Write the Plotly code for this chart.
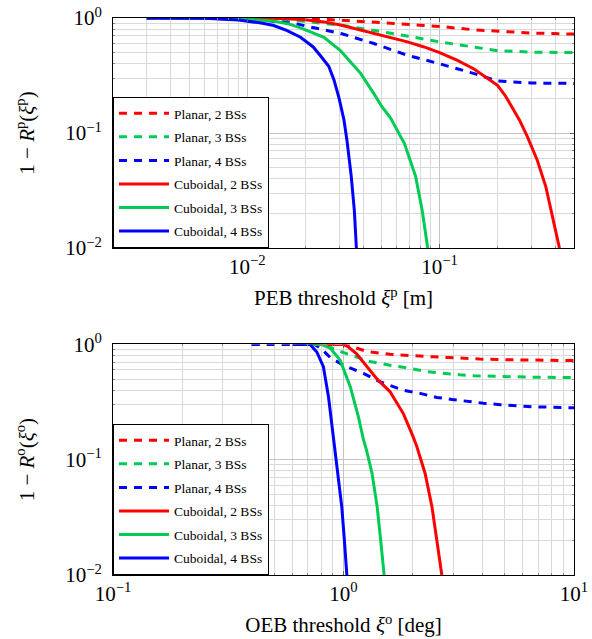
import math
import plotly.graph_objects as go

# ---------------- data ----------------
names = ["Planar, 2 BSs", "Planar, 3 BSs", "Planar, 4 BSs",
         "Cuboidal, 2 BSs", "Cuboidal, 3 BSs", "Cuboidal, 4 BSs"]
colors = ["#ff0000", "#00cc55", "#0000ff", "#ff0000", "#00cc55", "#0000ff"]
dashes = ["8px,7px", "8px,7px", "8px,7px", "solid", "solid", "solid"]

# Top: PEB threshold [m]
peb_planar2_x = [0.003, 0.01, 0.015, 0.02, 0.03, 0.042, 0.06, 0.076, 0.1, 0.15, 0.2, 0.3, 0.5]
peb_planar2_y = [1.0, 1.0, 0.995, 0.985, 0.96, 0.93, 0.89, 0.87, 0.845, 0.79, 0.765, 0.74, 0.725]
peb_planar3_x = [0.003, 0.008, 0.012, 0.015, 0.02, 0.03, 0.04, 0.05, 0.07, 0.1, 0.15, 0.2, 0.3, 0.5]
peb_planar3_y = [1.0, 0.995, 0.98, 0.965, 0.935, 0.87, 0.81, 0.76, 0.69, 0.62, 0.56, 0.52, 0.505, 0.50]
peb_planar4_x = [0.003, 0.008, 0.012, 0.018, 0.0213, 0.026, 0.031, 0.0455, 0.068, 0.1, 0.15, 0.2, 0.25, 0.3, 0.5]
peb_planar4_y = [1.0, 0.99, 0.96, 0.89, 0.835, 0.78, 0.73, 0.60, 0.474, 0.40, 0.33, 0.283, 0.275, 0.272, 0.27]
peb_cub2_x = [0.003, 0.01, 0.015, 0.02, 0.025, 0.0305, 0.037, 0.0455, 0.0556, 0.068, 0.083, 0.1,
              0.123, 0.151, 0.177, 0.2, 0.22, 0.24, 0.26, 0.286, 0.322, 0.357, 0.386, 0.42]
peb_cub2_y = [1.0, 1.0, 0.99, 0.965, 0.925, 0.87, 0.80, 0.74, 0.68, 0.62, 0.56, 0.5,
              0.43, 0.36, 0.30, 0.26, 0.21, 0.165, 0.13, 0.093, 0.058, 0.034, 0.0187, 0.01]
peb_cub3_x = [0.003, 0.007, 0.0092, 0.0137, 0.0167, 0.0189, 0.022, 0.025, 0.0305, 0.0344, 0.0388,
              0.0455, 0.05, 0.0556, 0.0656, 0.075, 0.0811, 0.0867]
peb_cub3_y = [1.0, 0.998, 0.985, 0.94, 0.88, 0.82, 0.74, 0.68, 0.52, 0.41, 0.33,
              0.22, 0.17, 0.135, 0.081, 0.042, 0.0214, 0.01]
peb_cub4_x = [0.003, 0.006, 0.009, 0.012, 0.0137, 0.016, 0.0189, 0.022, 0.024, 0.0265, 0.0282,
              0.030, 0.0318, 0.033, 0.0347, 0.036, 0.0369]
peb_cub4_y = [1.0, 0.995, 0.96, 0.9, 0.86, 0.78, 0.68, 0.56, 0.47, 0.38, 0.29,
              0.2, 0.13, 0.085, 0.042, 0.0214, 0.01]

# Bottom: OEB threshold [deg]
oeb_planar2_x = [0.4, 1.0, 1.1, 1.26, 1.59, 1.95, 2.42, 2.85, 3.33, 3.9, 5.3, 6.2, 8.6, 10]
oeb_planar2_y = [1.0, 1.0, 0.95, 0.87, 0.82, 0.795, 0.78, 0.77, 0.756, 0.746, 0.736, 0.73, 0.726, 0.725]
oeb_planar3_x = [0.4, 0.8, 0.85, 0.935, 1.07, 1.3, 1.59, 1.95, 2.3, 2.7, 3.2, 3.7, 4.38, 5.1, 6.0, 7.1, 10]
oeb_planar3_y = [1.0, 1.0, 0.97, 0.89, 0.81, 0.71, 0.66, 0.62, 0.58, 0.56, 0.545, 0.534, 0.528, 0.524,
                 0.52, 0.518, 0.517]
oeb_planar4_x = [0.4, 0.75, 0.8, 0.875, 1.0, 1.22, 1.44, 1.82, 2.15, 2.54, 2.95, 3.49, 4.05, 4.79,
                 5.56, 6.57, 7.63, 10]
oeb_planar4_y = [1.0, 1.0, 0.92, 0.77, 0.66, 0.56, 0.474, 0.40, 0.376, 0.347, 0.333, 0.318, 0.309,
                 0.30, 0.293, 0.288, 0.286, 0.282]
oeb_cub2_x = [0.6, 1.0, 1.05, 1.14, 1.22, 1.3, 1.4, 1.59, 1.82, 2.0, 2.08, 2.26, 2.42, 2.54, 2.67]
oeb_cub2_y = [1.0, 1.0, 0.95, 0.83, 0.70, 0.6, 0.5, 0.39, 0.25, 0.16, 0.13, 0.076, 0.039, 0.02, 0.01]
oeb_cub3_x = [0.6, 0.8, 0.875, 0.967, 1.07, 1.16, 1.22, 1.26, 1.33, 1.40, 1.45, 1.50]
oeb_cub3_y = [1.0, 1.0, 0.93, 0.73, 0.43, 0.236, 0.15, 0.12, 0.076, 0.039, 0.02, 0.01]
oeb_cub4_x = [0.6, 0.716, 0.766, 0.818, 0.861, 0.889, 0.92, 0.951, 0.983, 1.009, 1.034]
oeb_cub4_y = [1.0, 1.0, 0.86, 0.64, 0.35, 0.207, 0.125, 0.076, 0.039, 0.02, 0.01]

top_series = [(peb_planar2_x, peb_planar2_y), (peb_planar3_x, peb_planar3_y), (peb_planar4_x, peb_planar4_y),
              (peb_cub2_x, peb_cub2_y), (peb_cub3_x, peb_cub3_y), (peb_cub4_x, peb_cub4_y)]
bot_series = [(oeb_planar2_x, oeb_planar2_y), (oeb_planar3_x, oeb_planar3_y), (oeb_planar4_x, oeb_planar4_y),
              (oeb_cub2_x, oeb_cub2_y), (oeb_cub3_x, oeb_cub3_y), (oeb_cub4_x, oeb_cub4_y)]

top_xticks = [0.01, 0.1]
top_xticktext = ["10<sup>−2</sup>", "10<sup>−1</sup>"]
bot_xticks = [0.1, 1, 10]
bot_xticktext = ["10<sup>−1</sup>", "10<sup>0</sup>", "10<sup>1</sup>"]
yticks = [0.01, 0.1, 1]
yticktext = ["10<sup>−2</sup>", "10<sup>−1</sup>", "10<sup>0</sup>"]

# ---------------- figure ----------------
FONT = "Liberation Serif"
fig = go.Figure()

for i, ((xs, ys), nm, c, d) in enumerate(zip(top_series, names, colors, dashes)):
    fig.add_trace(go.Scatter(x=xs, y=ys, mode="lines", name=nm,
                             line=dict(color=c, width=3, dash=d),
                             xaxis="x", yaxis="y", legend="legend",
                             legendgroup=f"t{i}"))
for i, ((xs, ys), nm, c, d) in enumerate(zip(bot_series, names, colors, dashes)):
    fig.add_trace(go.Scatter(x=xs, y=ys, mode="lines", name=nm,
                             line=dict(color=c, width=3, dash=d),
                             xaxis="x2", yaxis="y2", legend="legend2",
                             legendgroup=f"b{i}"))

TOP_LOW = 0.587
BOT_HIGH = 0.414

def axis(**kw):
    base = dict(type="log", showline=True, linecolor="black", linewidth=1,
                mirror="allticks", ticks="inside", ticklen=4, tickcolor="#666",
                showgrid=True, gridcolor="#c4c4c4", gridwidth=1, zeroline=False,
                tickfont=dict(family=FONT, size=21, color="black"),
                minor=dict(dtick="D1", showgrid=True, gridcolor="#d9d9d9",
                           ticks="inside", ticklen=2, tickcolor="#888"),
                automargin=False)
    base.update(kw)
    return base

title_font = dict(family=FONT, size=21, color="black")

legend_common = dict(xanchor="left", yanchor="bottom",
                     bgcolor="white", bordercolor="black", borderwidth=1,
                     font=dict(family=FONT, size=13.5, color="black"),
                     itemwidth=50, tracegroupgap=3, traceorder="grouped")

fig.update_layout(
    width=592, height=639,
    margin=dict(l=113, r=18, t=18, b=64),
    paper_bgcolor="white", plot_bgcolor="white",
    showlegend=True,
    xaxis=axis(domain=[0, 1], anchor="y",
               range=[math.log10(0.002), math.log10(0.5)],
               tickvals=top_xticks, ticktext=top_xticktext,
               title=dict(text="PEB threshold <i>ξ</i><sup>p</sup> [m]", font=title_font, standoff=12)),
    yaxis=axis(domain=[TOP_LOW, 1], anchor="x", range=[-2, 0],
               tickvals=yticks, ticktext=yticktext, ticklabelstandoff=6,
               title=dict(text="1 − <i>R</i><sup>p</sup>(<i>ξ</i><sup>p</sup>)", font=title_font, standoff=24)),
    xaxis2=axis(domain=[0, 1], anchor="y2", range=[-1, 1],
                tickvals=bot_xticks, ticktext=bot_xticktext,
                title=dict(text="OEB threshold <i>ξ</i><sup>o</sup> [deg]", font=title_font, standoff=12)),
    yaxis2=axis(domain=[0, BOT_HIGH], anchor="x2", range=[-2, 0],
                tickvals=yticks, ticktext=yticktext, ticklabelstandoff=6,
                title=dict(text="1 − <i>R</i><sup>o</sup>(<i>ξ</i><sup>o</sup>)", font=title_font, standoff=24)),
    legend=dict(x=0, y=TOP_LOW, **legend_common),
    legend2=dict(x=0, y=0, **legend_common),
)

fig.write_html("out.html")
